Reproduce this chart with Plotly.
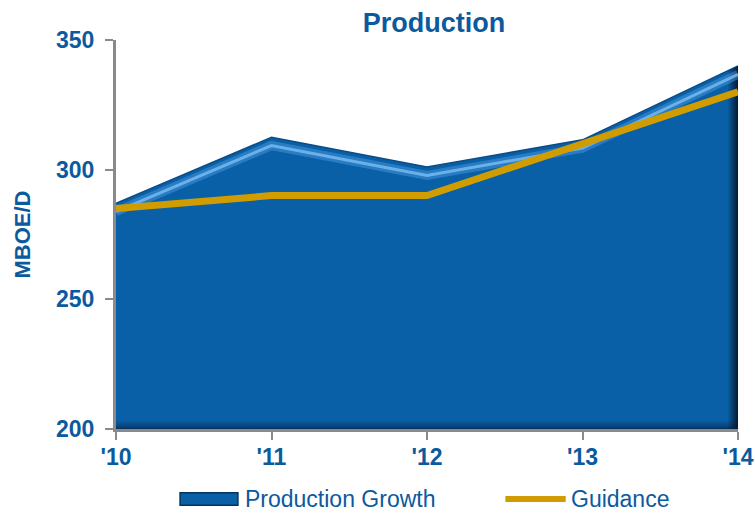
import plotly.graph_objects as go

# Data
years = ["'10", "'11", "'12", "'13", "'14"]
production = [287, 312.5, 301, 311.5, 340]
guidance = [285, 290, 290, 310, 330]
y_ticks = [200, 250, 300, 350]

BLUE = "#0A60A6"
TEXT_BLUE = "#0B5A9E"
GOLD = "#D09C00"
GREY = "#8A8A8A"
FONT = "Liberation Sans, Arial, sans-serif"

# highlight band just under the top edge of the area
bevel = [v - 3.2 for v in production]

fig = go.Figure()

# main area with darkening toward the baseline
fig.add_trace(go.Scatter(
    x=years, y=production, mode="lines", fill="tozeroy",
    line=dict(color="#0A4C88", width=1.5),
    fillgradient=dict(
        type="vertical", start=200, stop=340,
        colorscale=[[0, "#05345F"], [0.01, "#084A84"], [0.025, BLUE], [1, BLUE]],
    ),
    hoverinfo="skip", showlegend=False,
))

# darkening toward the right edge
fig.add_trace(go.Scatter(
    x=years, y=production, mode="none", fill="tozeroy",
    fillgradient=dict(
        type="horizontal", start=0, stop=4,
        colorscale=[[0, "rgba(4,22,45,0)"], [0.983, "rgba(4,22,45,0)"],
                    [1, "rgba(4,22,45,0.95)"]],
    ),
    hoverinfo="skip", showlegend=False,
))

# soft light bevel along the top
fig.add_trace(go.Scatter(
    x=years, y=bevel, mode="lines",
    line=dict(color="rgba(80,160,230,0.45)", width=9),
    hoverinfo="skip", showlegend=False,
))
fig.add_trace(go.Scatter(
    x=years, y=bevel, mode="lines",
    line=dict(color="rgba(130,195,245,0.75)", width=3),
    hoverinfo="skip", showlegend=False,
))

# guidance line
fig.add_trace(go.Scatter(
    x=years, y=guidance, mode="lines",
    line=dict(color=GOLD, width=7),
    hoverinfo="skip", showlegend=False,
))

# legend drawn below the plot
legend_y = -0.18
fig.add_shape(type="rect", xref="paper", yref="paper",
              x0=0.103, x1=0.196, y0=legend_y - 0.016, y1=legend_y + 0.016,
              fillcolor=BLUE, line=dict(color="#06335C", width=1.5))
fig.add_shape(type="line", xref="paper", yref="paper",
              x0=0.626, x1=0.723, y0=legend_y, y1=legend_y,
              line=dict(color=GOLD, width=6))
fig.add_annotation(text="Production Growth", xref="paper", yref="paper",
                   x=0.204, y=legend_y, xanchor="left", yanchor="middle",
                   showarrow=False, font=dict(family=FONT, size=23, color=TEXT_BLUE))
fig.add_annotation(text="Guidance", xref="paper", yref="paper",
                   x=0.728, y=legend_y, xanchor="left", yanchor="middle",
                   showarrow=False, font=dict(family=FONT, size=23, color=TEXT_BLUE))

fig.update_layout(
    width=755, height=513,
    margin=dict(l=116, r=17, t=40, b=84, autoexpand=False),
    paper_bgcolor="white", plot_bgcolor="white",
    showlegend=False,
    title=dict(text="<b>Production</b>", x=434 / 755, xanchor="center",
               y=1 - 23 / 513, yanchor="middle",
               font=dict(family=FONT, size=27, color=TEXT_BLUE)),
    font=dict(family=FONT, color=TEXT_BLUE),
)

fig.update_xaxes(
    range=[0, 4], showgrid=False, zeroline=False, automargin=False,
    showline=True, linecolor=GREY, linewidth=3,
    ticks="outside", ticklen=8, tickwidth=2, tickcolor=GREY,
    tickfont=dict(family=FONT, size=23, color=TEXT_BLUE, weight="bold"),
    ticklabelstandoff=-3,
)
fig.update_yaxes(
    range=[200, 350], tickvals=y_ticks, showgrid=False, zeroline=False,
    automargin=False,
    showline=True, linecolor=GREY, linewidth=3,
    ticks="outside", ticklen=8, tickwidth=2, tickcolor=GREY,
    tickfont=dict(family=FONT, size=23, color=TEXT_BLUE, weight="bold"),
    ticklabelstandoff=6,
    title=dict(text="<b>MBOE/D</b>", standoff=20,
               font=dict(family=FONT, size=22, color=TEXT_BLUE)),
)

fig.write_html("out.html")
